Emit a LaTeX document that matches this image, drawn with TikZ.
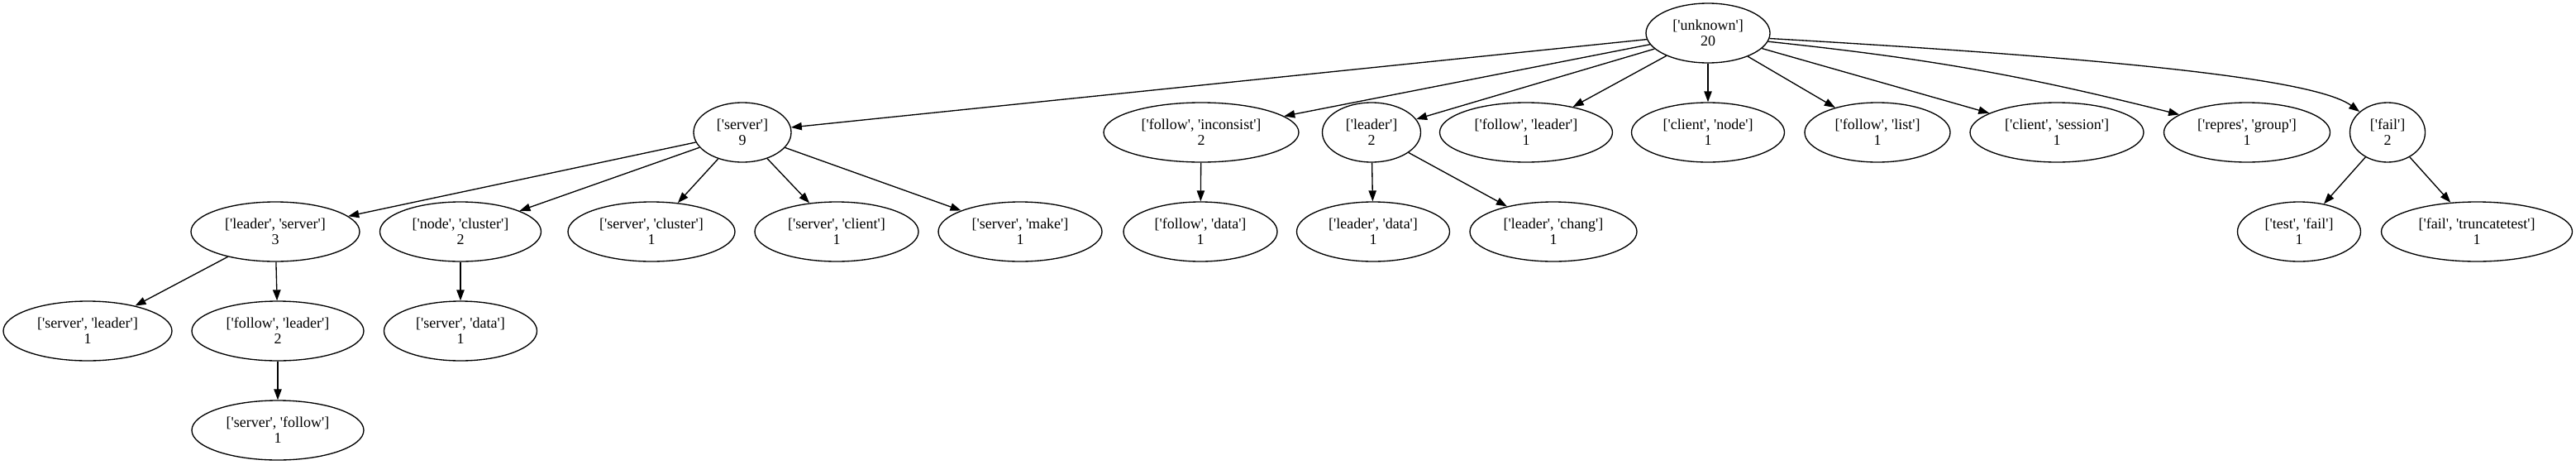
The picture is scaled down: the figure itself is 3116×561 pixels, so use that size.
\documentclass[tikz,border=0pt]{standalone}
\usepackage{fontspec}
\setmainfont{Liberation Serif}
\usetikzlibrary{arrows.meta,shapes.geometric}
\newcommand{\qs}{\textquotesingle}
\begin{document}
\begin{tikzpicture}[x=0.75pt,y=-0.75pt,
  nd/.style={ellipse,draw,line width=1pt,inner sep=0pt,minimum height=54pt,minimum width=#1*0.75pt,align=center,font=\fontsize{13.5}{14.25}\selectfont},
  ed/.style={line width=1pt,-{Triangle[length=9.75pt,width=7pt]}}]
\useasboundingbox (0,0) rectangle (3116,561);
% root
\node[nd=150] (root) at (2066,40) {[\qs unknown\qs]\\20};
% level 1
\node[nd=118] (server) at (898,160) {[\qs server\qs]\\9};
\node[nd=236] (fi) at (1453,160) {[\qs follow\qs, \qs inconsist\qs]\\2};
\node[nd=119] (leader) at (1659,160) {[\qs leader\qs]\\2};
\node[nd=209] (fl) at (1846,160) {[\qs follow\qs, \qs leader\qs]\\1};
\node[nd=185] (cn) at (2066,160) {[\qs client\qs, \qs node\qs]\\1};
\node[nd=176] (flist) at (2271,160) {[\qs follow\qs, \qs list\qs]\\1};
\node[nd=210] (cs) at (2488,160) {[\qs client\qs, \qs session\qs]\\1};
\node[nd=201] (rg) at (2718,160) {[\qs repres\qs, \qs group\qs]\\1};
\node[nd=91] (fail) at (2888,160) {[\qs fail\qs]\\2};
% level 2
\node[nd=204] (ls) at (333,280) {[\qs leader\qs, \qs server\qs]\\3};
\node[nd=195] (nc) at (557,280) {[\qs node\qs, \qs cluster\qs]\\2};
\node[nd=202] (sc) at (788,280) {[\qs server\qs, \qs cluster\qs]\\1};
\node[nd=198] (scl) at (1012,280) {[\qs server\qs, \qs client\qs]\\1};
\node[nd=198] (sm) at (1234,280) {[\qs server\qs, \qs make\qs]\\1};
\node[nd=186] (fd) at (1452,280) {[\qs follow\qs, \qs data\qs]\\1};
\node[nd=185] (ld) at (1661,280) {[\qs leader\qs, \qs data\qs]\\1};
\node[nd=202] (lc) at (1879,280) {[\qs leader\qs, \qs chang\qs]\\1};
\node[nd=149] (tf) at (2781,280) {[\qs test\qs, \qs fail\qs]\\1};
\node[nd=231] (ft) at (2996,280) {[\qs fail\qs, \qs truncatetest\qs]\\1};
% level 3
\node[nd=204] (sl) at (106,400) {[\qs server\qs, \qs leader\qs]\\1};
\node[nd=208] (fl2) at (336,400) {[\qs follow\qs, \qs leader\qs]\\2};
\node[nd=185] (sd) at (557,400) {[\qs server\qs, \qs data\qs]\\1};
% level 4
\node[nd=208] (sf) at (336,520) {[\qs server\qs, \qs follow\qs]\\1};
% edges from root
\draw[ed] (root) -- (server);
\draw[ed] (root) -- (fi);
\draw[ed] (root) -- (leader);
\draw[ed] (root) -- (fl);
\draw[ed] (root) -- (cn);
\draw[ed] (root) -- (flist);
\draw[ed] (root) -- (cs);
\draw[ed] (root.-8) to[bend left=4] (rg);
\draw[ed] (root.-5) .. controls (2550,70) and (2800,95) .. (fail);
% edges level 1 -> 2
\draw[ed] (server) -- (ls);
\draw[ed] (server) -- (nc);
\draw[ed] (server) -- (sc);
\draw[ed] (server) -- (scl);
\draw[ed] (server) -- (sm);
\draw[ed] (fi) -- (fd);
\draw[ed] (leader) -- (ld);
\draw[ed] (leader) -- (lc);
\draw[ed] (fail) -- (tf);
\draw[ed] (fail) -- (ft);
% level 2 -> 3 -> 4
\draw[ed] (ls) -- (sl);
\draw[ed] (ls) -- (fl2);
\draw[ed] (nc) -- (sd);
\draw[ed] (fl2) -- (sf);
\end{tikzpicture}
\end{document}
